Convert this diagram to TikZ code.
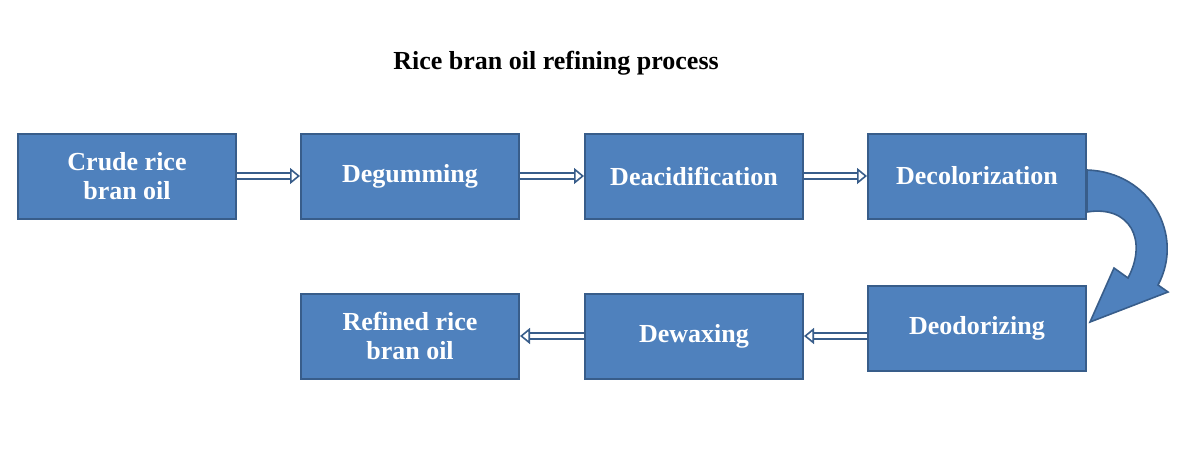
\documentclass[tikz,border=0pt]{standalone}
\usepackage{fontspec}
\setmainfont{Liberation Serif}
\usetikzlibrary{arrows.meta}
\definecolor{stepfill}{RGB}{79, 129, 189}
\definecolor{stepline}{RGB}{56, 93, 138}

\begin{document}
\begin{tikzpicture}[x=0.5pt,y=-0.5pt,
    stage/.style={draw=stepline, line width=1pt, fill=stepfill, text=white,
      minimum width=109pt, minimum height=42.5pt, align=center,
      font=\fontsize{13}{14.5}\selectfont\bfseries},
    flow/.style={draw=stepline, double=white, double distance=2pt, line width=0.8pt,
      -{Triangle[open, length=5pt, width=8pt]}}]
  \useasboundingbox (0,0) rectangle (1187,455);
  \node[font=\fontsize{13}{15}\selectfont\bfseries] (title) at (556,63) {Rice bran oil refining process};

  \node[stage] (crude) at (127,176) {Crude rice\\bran oil};
  \node[stage] (degum) at (410,176) {Degumming};
  \node[stage] (deacid) at (694,176) {Deacidification};
  \node[stage] (decolor) at (977,176) {Decolorization};
  \node[stage] (deodor) at (977,328) {Deodorizing};
  \node[stage] (dewax) at (694,336) {Dewaxing};
  \node[stage] (refined) at (410,336) {Refined rice\\bran oil};

  \draw[flow] (crude) -- (degum);
  \draw[flow] (degum) -- (deacid);
  \draw[flow] (deacid) -- (decolor);
  \draw[flow] (deodor.west |- dewax) -- (dewax);
  \draw[flow] (dewax) -- (refined);

  % curved block arrow
  \fill[stepfill, draw=stepline, line width=0.8pt]
    (decolor.east |- 0,170) .. controls (1150,172) and (1185,235) .. (1158,285)
    -- (1168,292) -- (1090,322) -- (1114,268) -- (1128,278)
    .. controls (1148,240) and (1130,205) .. (decolor.east |- 0,212) -- cycle;
\end{tikzpicture}
\end{document}
